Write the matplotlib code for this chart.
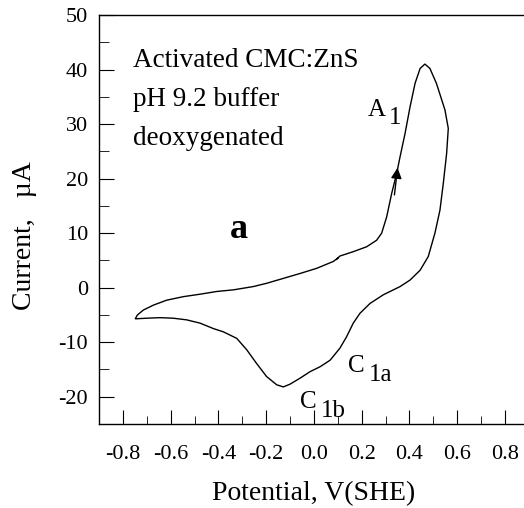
import numpy as np
import matplotlib
matplotlib.use('Agg')
import matplotlib.pyplot as plt
from matplotlib.ticker import MultipleLocator

plt.rcParams['font.family'] = ['Liberation Serif', 'DejaVu Serif']
plt.rcParams['axes.unicode_minus'] = False

# Cyclic voltammogram (V vs SHE, uA)
potential = [0.095, 0.109, 0.165, 0.221, 0.263, 0.284, 0.305, 0.326, 0.347, 0.361,
             0.382, 0.403, 0.424, 0.445, 0.465, 0.486, 0.513, 0.549, 0.563,
             0.556, 0.542, 0.528, 0.507, 0.479, 0.445, 0.403, 0.361, 0.291, 0.235,
             0.193, 0.165, 0.137, 0.109, 0.068, 0.026, -0.016, -0.058, -0.100,
             -0.128, -0.156, -0.198, -0.240, -0.281, -0.323, -0.379, -0.421, -0.477,
             -0.533, -0.589, -0.645, -0.700, -0.742, -0.748,
             -0.739, -0.714, -0.672, -0.617, -0.547, -0.477, -0.407, -0.337, -0.254,
             -0.198, -0.128, -0.058, 0.012, 0.081, 0.100]
current = [5.2, 5.8, 6.6, 7.5, 8.7, 10.0, 13.0, 17.3, 21.0, 24.0,
           28.3, 33.2, 37.5, 40.2, 41.0, 40.2, 37.5, 32.6, 29.2,
           24.6, 19.1, 14.2, 10.0, 5.7, 3.2, 1.4, 0.2, -1.3, -2.9,
           -4.7, -6.5, -9.0, -11.1, -13.3, -14.5, -15.4, -16.6, -17.7,
           -18.2, -17.8, -16.3, -13.9, -11.4, -9.3, -8.1, -7.5, -6.5,
           -5.9, -5.6, -5.5, -5.6, -5.7, -5.7,
           -5.0, -4.1, -3.2, -2.3, -1.65, -1.2, -0.7, -0.4, 0.2,
           0.8, 1.7, 2.6, 3.55, 4.8, 5.4]

xticks = [-0.8, -0.6, -0.4, -0.2, 0.0, 0.2, 0.4, 0.6, 0.8]
xtick_labels = ['-0.8', '-0.6', '-0.4', '-0.2', '0.0', '0.2', '0.4', '0.6', '0.8']
info_lines = ['Activated CMC:ZnS', 'pH 9.2 buffer', 'deoxygenated']
peaks = [('A', '1', 0.227, 31.5), ('C', '1a', 0.143, -15.5), ('C', '1b', -0.058, -22.1)]

fig = plt.figure(figsize=(5.24, 5.08), dpi=100)
ax = fig.add_axes([99 / 524, 84 / 508, 429.75 / 524, 409 / 508])

ax.plot(potential, current, color='k', linewidth=1.0)
ax.annotate('', xy=(0.352, 22.5), xytext=(0.336, 16.5),
            arrowprops=dict(arrowstyle='-|>', color='k', lw=1.0, mutation_scale=16))

ax.set_xlim(-0.9, 0.9)
ax.set_ylim(-25, 50)
ax.set_xticks(xticks)
ax.set_xticklabels(xtick_labels)
ax.xaxis.set_minor_locator(MultipleLocator(0.1))
ax.yaxis.set_major_locator(MultipleLocator(10))
ax.yaxis.set_minor_locator(MultipleLocator(5))
ax.tick_params(axis='both', which='both', direction='in', top=False, right=False, labelsize=16)
ax.tick_params(axis='x', which='major', length=10, pad=15)
ax.tick_params(axis='x', which='minor', length=6)
ax.tick_params(axis='y', which='major', length=11, pad=8)
ax.tick_params(axis='y', which='minor', length=7)
for s in ax.spines.values():
    s.set_linewidth(1.0)

ax.set_xlabel('Potential, V(SHE)', fontsize=20)
ax.set_ylabel('Current,   \u00b5A', fontsize=20)
ax.xaxis.set_label_coords(0.5, -0.14)
ax.yaxis.set_label_coords(-0.144, 0.46)

for i, line in enumerate(info_lines):
    ax.text(-0.758, 40.46 - i * 7.15, line, fontsize=19.5)
ax.text(-0.351, 9.1, 'a', fontsize=26, fontweight='bold')

for main, sub, x, y in peaks:
    ax.text(x, y, main, fontsize=18)
    ax.annotate(sub, xy=(x, y), xytext=(15, -6), textcoords='offset points', fontsize=18)

fig.savefig('out.png', dpi=100)
